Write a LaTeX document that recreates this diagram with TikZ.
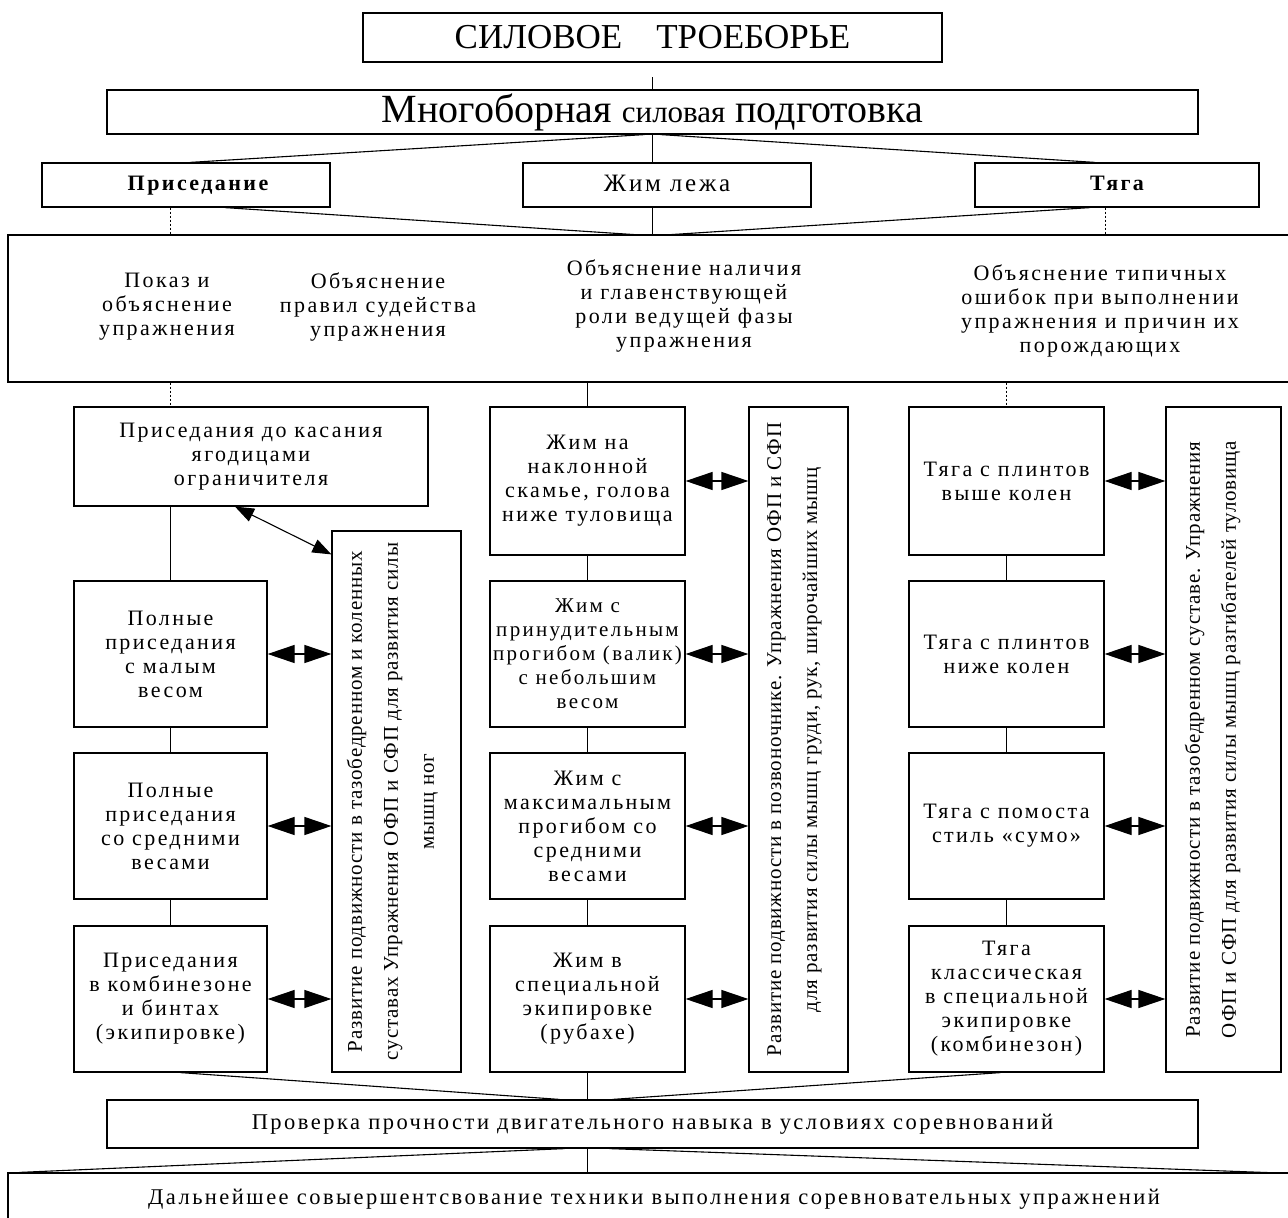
\documentclass[tikz,border=0pt]{standalone}
\usepackage{fontspec}
\setmainfont{Liberation Serif}
\newfontfamily\wfont[LetterSpace=11]{Liberation Serif}
\newfontfamily\vfont[LetterSpace=4]{Liberation Serif}
\usetikzlibrary{arrows.meta,calc}
\begin{document}
\begin{tikzpicture}[x=1pt,y=-1pt,
  box/.style={draw, line width=1.2pt, inner sep=0pt, align=center, rectangle},
  wtxt/.style={align=center, inner sep=0pt, font=\wfont\fontsize{22}{24}\selectfont},
  vtxt/.style={align=center, inner sep=0pt, rotate=90, font=\vfont\fontsize{21}{36}\selectfont},
  conn/.style={line width=1.1pt},
  dotline/.style={line width=0.9pt, dash pattern=on 2pt off 2pt},
  fat/.style={line width=1.2pt, {Triangle[length=27pt,width=18pt]}-{Triangle[length=27pt,width=18pt]}},
  dblarrow/.style={line width=1.1pt, {Triangle[length=19pt,width=14pt]}-{Triangle[length=19pt,width=14pt]}},
  sbox/.style={box, minimum width=193pt, minimum height=146pt, font=\wfont\fontsize{22}{24}\selectfont},
  zbox/.style={box, minimum width=195pt, minimum height=146pt, font=\wfont\fontsize{22}{24}\selectfont},
  cat/.style={box, minimum height=44pt, text height=16pt, text depth=5pt},
]
\useasboundingbox (0,0) rectangle (1288,1218);
\clip (0,0) rectangle (1288,1218);

% top levels
\node[box, minimum width=579pt, minimum height=49pt, font=\fontsize{35}{40}\selectfont] (top) at (652.5,37.5) {СИЛОВОЕ\hspace{34pt}ТРОЕБОРЬЕ};
\node[box, minimum width=1091pt, minimum height=44pt, font=\fontsize{40}{44}\selectfont, text height=26pt, text depth=6pt] (mn) at (652.5,112) {Многоборная {\fontsize{31}{34}\selectfont силовая} подготовка};
\node[cat, minimum width=288pt, font=\wfont\bfseries\fontsize{22}{26}\selectfont] (pr) at (186,185) {\hspace*{24pt}Приседание};
\node[cat, minimum width=288pt, font=\wfont\fontsize{25}{28}\selectfont, text height=17pt, text depth=4pt] (zl) at (667,185) {Жим лежа};
\node[cat, minimum width=284pt, font=\wfont\bfseries\fontsize{22}{26}\selectfont] (tg) at (1117,185) {Тяга};

% big explanation box
\node[box, minimum width=1292pt, minimum height=147pt] (big) at (654,308.5) {};
\node[wtxt] (b1) at (167,307) {Показ и\\объяснение\\упражнения};
\node[wtxt] (b2) at (378,307) {Объяснение\\правил судейства\\упражнения};
\node[wtxt] (b3) at (684,306) {Объяснение наличия\\и главенствующей\\роли ведущей фазы\\упражнения};
\node[wtxt] (b4) at (1100,311) {Объяснение типичных\\ошибок при выполнении\\упражнения и причин их\\порождающих};

% left column
\node[box, minimum width=354pt, minimum height=99pt, font=\wfont\fontsize{22}{24}\selectfont] (s1) at (251,456.5) {Приседания до касания\\ягодицами\\ограничителя};
\node[sbox] (s2) at (170.5,654) {Полные\\приседания\\с малым\\весом};
\node[sbox] (s3) at (170.5,826) {Полные\\приседания\\со средними\\весами};
\node[sbox] (s4) at (170.5,999) {Приседания\\в комбинезоне\\и бинтах\\(экипировке)};
\node[box, minimum width=129pt, minimum height=541pt] (sv) at (396.5,801.5) {};
\node[vtxt] (svt) at ([xshift=-4pt]sv.center) {Развитие подвижности в тазобедренном и коленных\\суставах Упражнения ОФП и СФП для развития силы\\мышц ног};

% middle column
\node[zbox, minimum height=148pt] (z1) at (587.5,481) {Жим на\\наклонной\\скамье, голова\\ниже туловища};
\node[zbox, font=\wfont\fontsize{21}{24}\selectfont] (z2) at (587.5,654) {Жим с\\принудительным\\прогибом (валик)\\с небольшим\\весом};
\node[zbox] (z3) at (587.5,826) {Жим с\\максимальным\\прогибом со\\средними\\весами};
\node[zbox] (z4) at (587.5,999) {Жим в\\специальной\\экипировке\\(рубахе)};
\node[box, minimum width=99pt, minimum height=665pt] (zv) at (798.5,739.5) {};
\node[vtxt] (zvt) at ([xshift=-4pt]zv.center) {Развитие подвижности в позвоночнике. Упражнения ОФП и СФП\\для развития силы мышц груди, рук, широчайших мышц};

% right column
\node[zbox, minimum height=148pt] (t1) at (1006.5,481) {Тяга с плинтов\\выше колен};
\node[zbox] (t2) at (1006.5,654) {Тяга с плинтов\\ниже колен};
\node[zbox] (t3) at (1006.5,826) {Тяга с помоста\\стиль «сумо»};
\node[zbox] (t4) at (1006.5,999) {Тяга\\классическая\\в специальной\\экипировке\\(комбинезон)};
\node[box, minimum width=115pt, minimum height=665pt] (tv) at (1223.5,739.5) {};
\node[vtxt] (tvt) at ([xshift=-11pt]tv.center) {Развитие подвижности в тазобедренном суставе. Упражнения\\ОФП и СФП для развития силы мышц разгибателей туловища};

% bottom boxes
\node[box, minimum width=1091pt, minimum height=48pt, font=\wfont\fontsize{22.5}{26}\selectfont] (pv) at (652.5,1124) {Проверка прочности двигательного навыка в условиях соревнований};
\node[box, minimum width=1292pt, minimum height=48pt, font=\wfont\fontsize{22.5}{26}\selectfont, text depth=0pt] (dl) at (654,1197) {Дальнейшее совыершентсвование техники выполнения соревновательных упражнений};

% connectors: top
\coordinate (tstub) at (652.5,77);
\draw[conn] (tstub) -- (mn.north);
\draw[conn] (mn.south) -- (mn.south |- zl.north);
\draw[conn] ([xshift=-8pt]mn.south) -- ([xshift=4pt]pr.north);
\draw[conn] ([xshift=8pt]mn.south) -- ([xshift=-22pt]tg.north);
\coordinate (j1) at (652.5,235);
\draw[conn] (mn.south |- zl.south) -- (j1);
\draw[conn] ([xshift=39pt]pr.south) -- ([xshift=-12pt]j1);
\draw[conn] ([xshift=-27pt]tg.south) -- ([xshift=12pt]j1);
\draw[dotline] (pr.south -| s2.north) -- (big.north -| s2.north);
\draw[dotline] ([xshift=-12pt]tg.south) -- ([xshift=-12pt]tg.south |- big.north);
\draw[dotline] (big.south -| s2.north) -- (s1.north -| s2.north);
\draw[conn] (big.south -| z1.north) -- (z1.north);
\draw[dotline] (big.south -| t1.north) -- (t1.north);

% column links
\draw[conn] (s1.south -| s2.north) -- (s2.north);
\draw[conn] (s2.south) -- (s3.north);
\draw[conn] (s3.south) -- (s4.north);
\draw[conn] (z1.south) -- (z2.north);
\draw[conn] (z2.south) -- (z3.north);
\draw[conn] (z3.south) -- (z4.north);
\draw[conn] (t1.south) -- (t2.north);
\draw[conn] (t2.south) -- (t3.north);
\draw[conn] (t3.south) -- (t4.north);

% arrows
\draw[dblarrow] ([xshift=-16pt]s1.south) -- ([yshift=-24pt]sv.north west);
\draw[fat] (s2.east) -- (sv.west |- s2.east);
\draw[fat] (s3.east) -- (sv.west |- s3.east);
\draw[fat] (s4.east) -- (sv.west |- s4.east);
\draw[fat] (z1.east) -- (zv.west |- z1.east);
\draw[fat] (z2.east) -- (zv.west |- z2.east);
\draw[fat] (z3.east) -- (zv.west |- z3.east);
\draw[fat] (z4.east) -- (zv.west |- z4.east);
\draw[fat] (t1.east) -- (tv.west |- t1.east);
\draw[fat] (t2.east) -- (tv.west |- t2.east);
\draw[fat] (t3.east) -- (tv.west |- t3.east);
\draw[fat] (t4.east) -- (tv.west |- t4.east);

% bottom connectors
\coordinate (j2) at (z4.south |- pv.north);
\draw[conn] (z4.south) -- (j2);
\draw[conn] ([xshift=10pt]s4.south) -- ([xshift=-28pt]j2);
\draw[conn] ([xshift=-6pt]t4.south) -- ([xshift=25pt]j2);
\coordinate (j3) at (z4.south |- pv.south);
\draw[conn] (j3) -- (j3 |- dl.north);
\draw[conn] ([xshift=-23pt]j3) -- ([xshift=12pt]dl.north west);
\draw[conn] ([xshift=22pt]j3) -- (1280,1173);
\end{tikzpicture}
\end{document}
